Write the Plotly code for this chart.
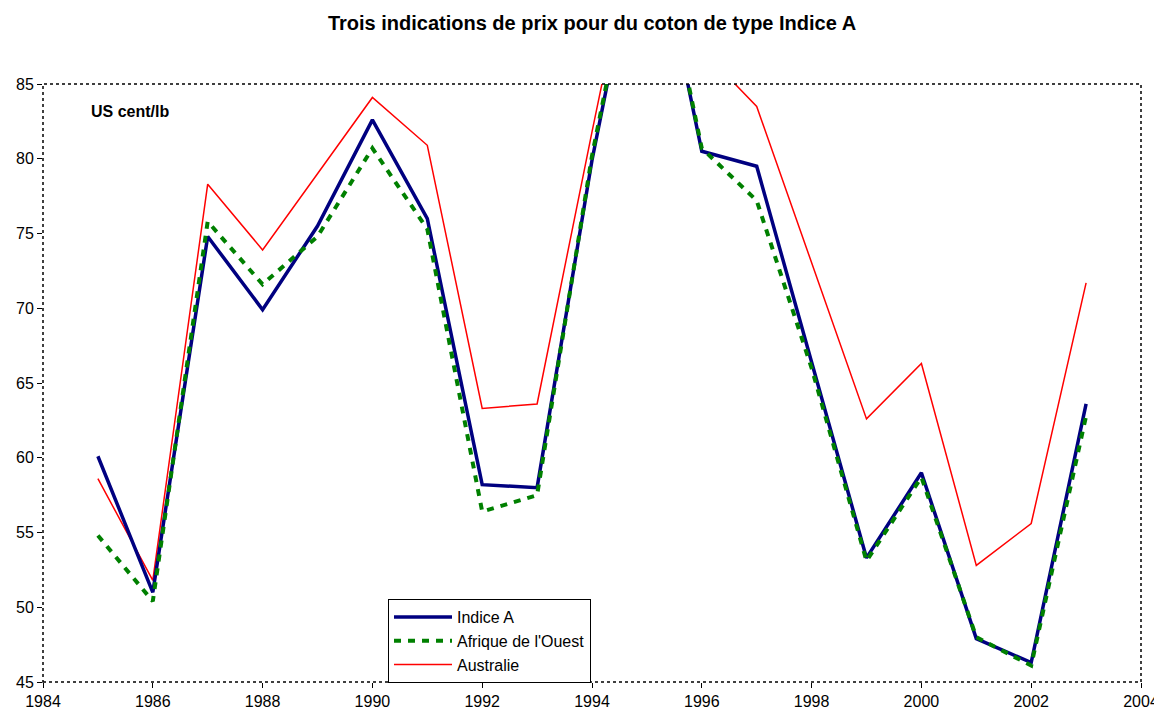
import plotly.graph_objects as go

years = list(range(1985, 2004))
indice_a = [60.1, 51.0, 74.8, 69.9, 75.5, 82.6, 76.0, 58.2, 58.0, 79.9, 98.2, 80.5, 79.5, 66.4, 53.3, 59.0, 47.9, 46.3, 63.6]
afrique_ouest = [54.8, 50.4, 75.8, 71.6, 74.8, 80.7, 75.3, 56.4, 57.5, 80.2, 98.4, 80.7, 77.2, 66.0, 53.1, 58.7, 48.0, 46.1, 62.8]
australie = [58.6, 51.8, 78.3, 73.9, 79.0, 84.1, 80.9, 63.3, 63.6, 81.8, 99.5, 87.3, 83.5, 73.0, 62.6, 66.3, 52.8, 55.6, 71.7]

x_ticks = list(range(1984, 2005, 2))
y_ticks = list(range(45, 86, 5))

FONT = "Liberation Sans, Arial"
OFF = 8  # default page body margin

fig = go.Figure()
fig.add_trace(go.Scatter(x=years, y=australie, name="Australie", mode="lines",
                         line=dict(color="#ff0000", width=1.5), legendrank=3))
fig.add_trace(go.Scatter(x=years, y=indice_a, name="Indice A", mode="lines",
                         line=dict(color="#000080", width=3.5), legendrank=1))
fig.add_trace(go.Scatter(x=years, y=afrique_ouest, name="Afrique de l'Ouest", mode="lines",
                         line=dict(color="#008000", width=4, dash="7px,7px"), legendrank=2))

fig.add_shape(type="rect", xref="paper", yref="paper", x0=0, y0=0, x1=1, y1=1,
              line=dict(color="black", width=1.5, dash="dot"), layer="above")

fig.add_annotation(text="<b>US cent/lb</b>", xref="paper", yref="paper",
                   x=(89 - 43) / 1098, y=(682 - 112) / 598, xanchor="left", yanchor="middle",
                   showarrow=False, font=dict(family=FONT, size=16, color="black"))

fig.update_layout(
    width=1162, height=713,
    margin=dict(l=43 - OFF, r=21 + OFF, t=84 - OFF, b=31 + OFF, autoexpand=False),
    paper_bgcolor="white", plot_bgcolor="white",
    title=dict(text="<b>Trois indications de prix pour du coton de type Indice A</b>",
               x=((43 + 1141) / 2 - OFF) / 1162, xanchor="center", y=1 - (23 - OFF) / 713, yanchor="middle",
               font=dict(family=FONT, size=20, color="black")),
    font=dict(family=FONT, size=15, color="black"),
    showlegend=True,
    legend=dict(x=(388 - 43) / 1098, y=(682 - 599) / 598, xanchor="left", yanchor="top",
                bordercolor="black", borderwidth=1, bgcolor="white",
                font=dict(family=FONT, size=16, color="black"),
                tracegroupgap=0, itemwidth=58),
    xaxis=dict(range=[1984, 2004], tickvals=x_ticks, ticktext=[str(v) for v in x_ticks],
               showgrid=False, zeroline=False, showline=False, automargin=False,
               ticks="outside", ticklen=5, tickcolor="black",
               tickfont=dict(family=FONT, size=16)),
    yaxis=dict(range=[45, 85], tickvals=y_ticks, ticktext=[str(v) for v in y_ticks],
               showgrid=False, zeroline=False, showline=False, automargin=False,
               ticks="outside", ticklen=5, tickcolor="black",
               tickfont=dict(family=FONT, size=16)),
)

fig.write_html("out.html")
